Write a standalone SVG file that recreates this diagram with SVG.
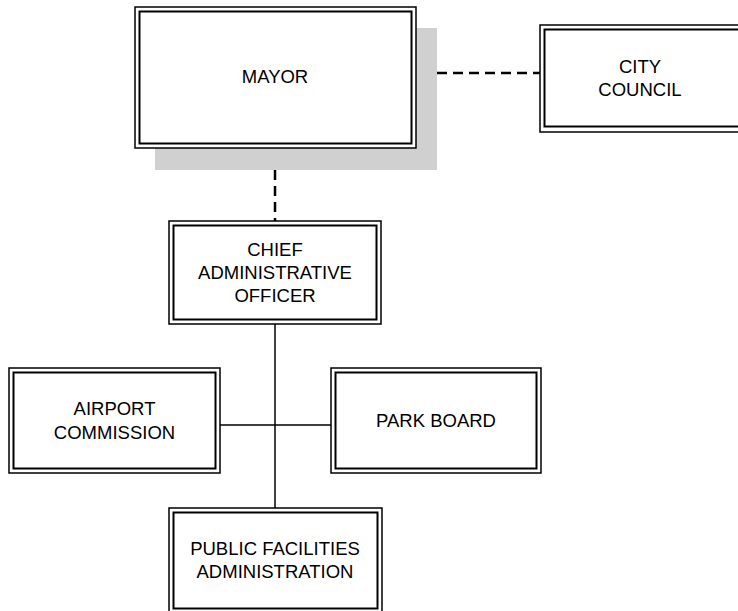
<svg xmlns="http://www.w3.org/2000/svg" width="738" height="611" viewBox="0 0 738 611">
<style>
.o{fill:#fff;stroke:#000;stroke-width:1.5}
.i{fill:none;stroke:#000;stroke-width:2}
.t{font-family:"Liberation Sans",Arial,sans-serif;font-size:18.5px;fill:#000;text-anchor:middle}
.s{stroke:#000;stroke-width:1.5;fill:none}
.d{stroke:#000;stroke-width:2.5;fill:none;stroke-dasharray:10 6}
</style>
<rect width="738" height="611" fill="#fff"/>
<g id="connectors">
<line class="d" x1="437" y1="73" x2="540" y2="73"/>
<line class="d" x1="275" y1="170" x2="275" y2="221"/>
<line class="s" x1="275" y1="324" x2="275" y2="508"/>
<line class="s" x1="220" y1="425" x2="331" y2="425"/>
</g>
<g id="mayor">
<rect x="155" y="28" width="282" height="142" fill="#d0d0d0"/>
<rect class="o" x="135" y="7" width="281" height="141"/>
<rect class="i" x="139.5" y="11.5" width="272" height="132"/>
<text class="t" x="275" y="83">MAYOR</text>
</g>
<g id="council">
<rect class="o" x="540" y="25" width="205" height="107"/>
<rect class="i" x="544.5" y="29.5" width="196" height="97"/>
<text class="t" x="640" y="73">CITY</text>
<text class="t" x="640" y="96">COUNCIL</text>
</g>
<g id="cao">
<rect class="o" x="169" y="221" width="212" height="103"/>
<rect class="i" x="173.5" y="225.5" width="203" height="94"/>
<text class="t" x="275" y="256">CHIEF</text>
<text class="t" x="275" y="279">ADMINISTRATIVE</text>
<text class="t" x="275" y="302">OFFICER</text>
</g>
<g id="airport">
<rect class="o" x="9" y="368" width="211" height="105"/>
<rect class="i" x="13.5" y="372.5" width="202" height="96"/>
<text class="t" x="114.5" y="415">AIRPORT</text>
<text class="t" x="114.5" y="439">COMMISSION</text>
</g>
<g id="park">
<rect class="o" x="331" y="368" width="210" height="105"/>
<rect class="i" x="335.5" y="372.5" width="201" height="96"/>
<text class="t" x="436" y="427">PARK BOARD</text>
</g>
<g id="pfa">
<rect class="o" x="169" y="508" width="213" height="106"/>
<rect class="i" x="173.5" y="512.5" width="204" height="96"/>
<text class="t" x="275" y="555">PUBLIC FACILITIES</text>
<text class="t" x="275" y="578">ADMINISTRATION</text>
</g>
</svg>
